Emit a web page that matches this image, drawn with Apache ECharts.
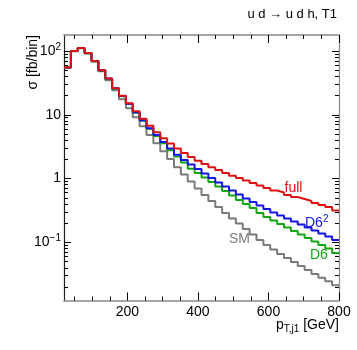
<!DOCTYPE html>
<html>
<head>
<meta charset="utf-8">
<script src="https://cdn.jsdelivr.net/npm/echarts@6.0.0/dist/echarts.min.js"></script>
<style>
  html, body { margin: 0; padding: 0; background: #fff; }
  #chart { width: 357px; height: 350px; }
</style>
</head>
<body>
<div id="chart"></div>
<script>
// ---- data ----
const binEdges = [20, 39.5, 59, 78.5, 98, 117.5, 137, 156.5, 176, 195.5, 215, 234.5, 254, 273.5, 293, 312.5, 332, 351.5, 371, 390.5, 410, 429.5, 449, 468.5, 488, 507.5, 527, 546.5, 566, 585.5, 605, 624.5, 644, 663.5, 683, 702.5, 722, 741.5, 761, 780.5, 800];

const fullVals = [55.0, 100, 111, 93.1, 69.8, 49.9, 37.0, 26.1, 19.9, 15.2, 11.4, 8.69, 6.75, 5.34, 4.30, 3.53, 2.95, 2.51, 2.17, 1.91, 1.69, 1.51, 1.36, 1.22, 1.11, 1.02, 0.93, 0.85, 0.777, 0.710, 0.649, 0.604, 0.552, 0.513, 0.478, 0.445, 0.414, 0.385, 0.358, 0.316];

const d6sqVals = [55.0, 100, 111, 93.1, 69.8, 49.9, 37.0, 26.1, 19.7, 14.9, 10.98, 8.23, 6.17, 4.80, 3.73, 2.95, 2.37, 1.95, 1.66, 1.41, 1.20, 1.02, 0.866, 0.750, 0.649, 0.562, 0.486, 0.429, 0.378, 0.333, 0.294, 0.264, 0.237, 0.212, 0.191, 0.171, 0.154, 0.138, 0.124, 0.109];

const d6Vals = [54.8, 99.5, 110.8, 92.8, 69.5, 49.6, 36.8, 25.9, 19.5, 14.7, 10.8, 8.08, 6.06, 4.63, 3.59, 2.79, 2.21, 1.78, 1.43, 1.22, 1.04, 0.882, 0.750, 0.637, 0.542, 0.461, 0.399, 0.345, 0.288, 0.250, 0.220, 0.194, 0.171, 0.151, 0.133, 0.117, 0.103, 0.091, 0.0802, 0.0682];

const smVals = [54.6, 98.9, 110, 90.4, 67.8, 48.1, 34.8, 24.3, 17.5, 12.7, 9.17, 6.63, 4.80, 3.59, 2.69, 2.02, 1.51, 1.155, 0.898, 0.698, 0.552, 0.445, 0.358, 0.288, 0.237, 0.198, 0.162, 0.133, 0.109, 0.0911, 0.0774, 0.0658, 0.0570, 0.0494, 0.0427, 0.0370, 0.0320, 0.0278, 0.0245, 0.0212];

const xMajorTicks = [200, 400, 600, 800];
const xMinorTicks = [50, 100, 150, 250, 300, 350, 450, 500, 550, 650, 700, 750];
const yDecadeExps = [-1, 0, 1, 2];
const yDecadeLabels = ['10{sup|\u22121}', '1', '10', '10{sup|2}'];

const xMin = 20, xMax = 800;
const yMinLog = -1.911, yMaxLog = 2.25;

// ---- build ----
function histData(vals) {
  const d = vals.map((v, i) => [binEdges[i], Math.log10(v)]);
  d.push([binEdges[vals.length], Math.log10(vals[vals.length - 1])]);
  return d;
}
const yMinorTicks = [];
for (let k = -2; k <= 2; k++) {
  for (let m = 2; m <= 9; m++) {
    const l = Math.log10(m * Math.pow(10, k));
    if (l > yMinLog && l < yMaxLog) yMinorTicks.push(l);
  }
}
const FONT = 'Liberation Sans, Arial, Helvetica, sans-serif';
const frameGray = '#888';

function xAx(pos, ticks, len, showLine, lineColor, labels) {
  return {
    type: 'value', position: pos, min: xMin, max: xMax,
    axisLine: { show: showLine, onZero: false, lineStyle: { color: lineColor, width: 1.5 } },
    axisTick: { show: true, inside: true, length: len, customValues: ticks, lineStyle: { color: '#000', width: 1 } },
    axisLabel: labels ? { show: true, customValues: xMajorTicks, margin: 5, fontSize: 14, color: '#000', fontFamily: FONT } : { show: false },
    splitLine: { show: false }
  };
}
function yAx(pos, ticks, len, showLine, lineColor, labels) {
  return {
    type: 'value', position: pos, min: yMinLog, max: yMaxLog,
    axisLine: { show: showLine, onZero: false, lineStyle: { color: lineColor, width: 1.2 } },
    axisTick: { show: true, inside: true, length: len, customValues: ticks, lineStyle: { color: '#000', width: 1 } },
    axisLabel: labels ? {
      show: true, customValues: yDecadeExps, margin: 3, fontSize: 14, color: '#000', fontFamily: FONT,
      formatter: function (v) { const i = yDecadeExps.indexOf(Math.round(v)); return i >= 0 ? yDecadeLabels[i] : ''; },
      rich: { sup: { fontSize: 10, fontFamily: FONT, color: '#000', padding: [0, 0, 8, 0] } }
    } : { show: false },
    splitLine: { show: false }
  };
}

const chart = echarts.init(document.getElementById('chart'), null, { renderer: 'canvas' });
chart.setOption({
  animation: false,
  backgroundColor: '#fff',
  grid: { left: 64, top: 35, right: 18, bottom: 49.5 },
  xAxis: [
    xAx('bottom', xMajorTicks, 8, true, frameGray, true),
    xAx('bottom', xMinorTicks, 4, false, frameGray, false),
    xAx('top', xMajorTicks, 8, true, frameGray, false),
    xAx('top', xMinorTicks, 4, false, frameGray, false)
  ],
  yAxis: [
    yAx('left', yDecadeExps, 7, true, '#222', true),
    yAx('left', yMinorTicks, 4, false, '#222', false),
    yAx('right', yDecadeExps, 7, true, frameGray, false),
    yAx('right', yMinorTicks, 4, false, frameGray, false)
  ],
  series: [
    { name: 'SM', type: 'line', step: 'end', data: histData(smVals), symbol: 'none', clip: true, lineStyle: { color: '#7a7a7a', width: 2 }, z: 2 },
    { name: 'D6', type: 'line', step: 'end', data: histData(d6Vals), symbol: 'none', clip: true, lineStyle: { color: '#12a612', width: 2 }, z: 3 },
    { name: 'D6^2', type: 'line', step: 'end', data: histData(d6sqVals), symbol: 'none', clip: true, lineStyle: { color: '#1414e6', width: 2 }, z: 4 },
    { name: 'full', type: 'line', step: 'end', data: histData(fullVals), symbol: 'none', clip: true, lineStyle: { color: '#dd1111', width: 2 }, z: 5 }
  ],
  graphic: [
    { type: 'text', x: 337, y: 14, style: { text: 'u d \u2192 u d h, T1', fill: '#000', font: '13px ' + FONT, align: 'right', verticalAlign: 'middle' } },
    { type: 'text', x: 33, y: 35, rotation: Math.PI / 2, style: { text: '\u03c3 [fb/bin]', fill: '#000', font: '14px ' + FONT, align: 'right', verticalAlign: 'middle' } },
    { type: 'text', x: 339, y: 325, style: {
        text: 'p{sub|T,j1} [GeV]', fill: '#000', font: '14px ' + FONT, align: 'right', verticalAlign: 'middle',
        rich: { sub: { fontSize: 10, fontFamily: FONT, fill: '#000', padding: [8, 0, 0, 0] } } } },
    { type: 'text', x: 293.5, y: 188, style: { text: 'full', fill: '#dd1111', font: '14px ' + FONT, align: 'center', verticalAlign: 'middle' } },
    { type: 'text', x: 305, y: 223, style: {
        text: 'D6{sup|2}', fill: '#1414e6', font: '14px ' + FONT, align: 'left', verticalAlign: 'middle',
        rich: { sup: { fontSize: 10, fontFamily: FONT, fill: '#1414e6', padding: [0, 0, 8, 0] } } } },
    { type: 'text', x: 310, y: 255, style: { text: 'D6', fill: '#12a612', font: '14px ' + FONT, align: 'left', verticalAlign: 'middle' } },
    { type: 'text', x: 229, y: 239, style: { text: 'SM', fill: '#7a7a7a', font: '14px ' + FONT, align: 'left', verticalAlign: 'middle' } }
  ]
});
</script>
</body>
</html>
